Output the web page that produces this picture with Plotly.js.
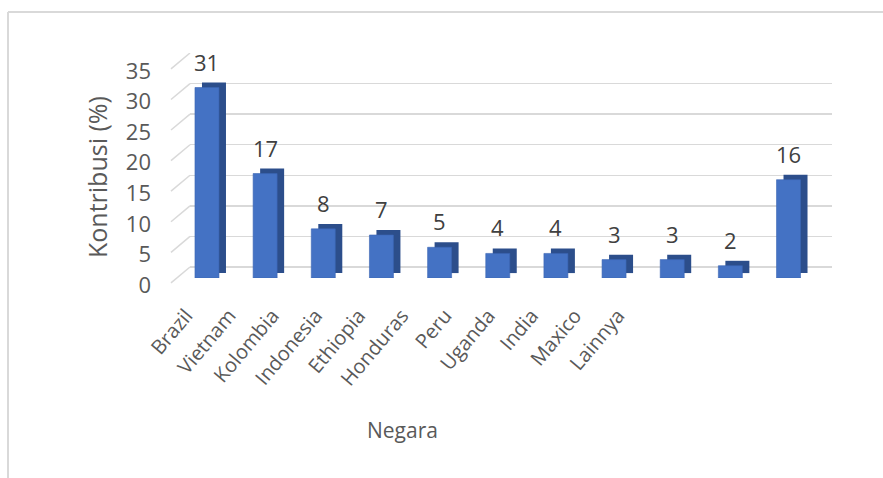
<!DOCTYPE html>
<html>
<head>
<meta charset="utf-8">
<script src="https://cdn.plot.ly/plotly-3.0.1.min.js"></script>
<style>html,body{margin:0;padding:0;background:#fff;}#chart{width:883px;height:478px;}</style>
</head>
<body>
<div id="chart"></div>
<script>
const categories = ['Brazil','Vietnam','Kolombia','Indonesia','Ethiopia','Honduras','Peru','Uganda','India','Maxico','Lainnya'];
const values = [31, 17, 8, 7, 5, 4, 4, 3, 3, 2, 16];
const yTicks = [0, 5, 10, 15, 20, 25, 30, 35];
const yTickLabels = ['0', '5', '10', '15', '20', '25', '30', '35'];
const xTitle = 'Negara';
const yTitle = 'Kontribusi (%)';

const W = 883, H = 478;
const fx = p => p / W;
const fy = p => 1 - p / H;

const FONT = '"Open Sans", Lato, sans-serif';
const GRID = '#d9d9d9';
const TXT = '#595959';

const traces = [
  { type: 'scatter', mode: 'markers', x: categories, y: values, xaxis: 'x', yaxis: 'y',
    marker: { opacity: 0 }, hoverinfo: 'skip', showlegend: false },
  { type: 'bar', x: categories, y: values, xaxis: 'x2', yaxis: 'y2',
    base: 0.8, offset: -0.086, width: 0.4127,
    marker: { color: '#2c4e8b' }, hoverinfo: 'skip', showlegend: false },
  { type: 'bar', x: categories, y: values, xaxis: 'x2', yaxis: 'y2',
    offset: -0.2063, width: 0.4127,
    marker: { color: '#4472C4', line: { color: '#3b65b3', width: 0.6 } },
    hoverinfo: 'skip', showlegend: false }
];

const shapes = yTicks.map(v => ({
  type: 'line', xref: 'paper', yref: 'y', x0: fx(171), y0: v - 2.6, x1: fx(190), y1: v,
  line: { color: GRID, width: 1.5 }, layer: 'below'
}));
shapes.push({ type: 'line', xref: 'paper', yref: 'paper', x0: fx(8), y0: 0, x1: fx(8), y1: fy(12), line: { color: GRID, width: 2 } });
shapes.push({ type: 'line', xref: 'paper', yref: 'paper', x0: fx(8), y0: fy(12), x1: 1, y1: fy(12), line: { color: GRID, width: 2 } });

const annotations = categories.map((c, i) => ({
  x: c, y: values[i], xref: 'x2', yref: 'y2', text: String(values[i]),
  showarrow: false, yshift: 26, font: { family: FONT, size: 22, color: '#404040' }
}));
annotations.push({
  xref: 'paper', yref: 'paper', x: fx(402), y: fy(430), text: xTitle, showarrow: false,
  xanchor: 'center', yanchor: 'middle', font: { family: FONT, size: 21, color: TXT }
});
annotations.push({
  xref: 'paper', yref: 'paper', x: fx(97), y: fy(177), text: yTitle, showarrow: false, textangle: -90,
  xanchor: 'center', yanchor: 'middle', font: { family: FONT, size: 25, color: TXT }
});

const layout = {
  width: W, height: H,
  margin: { l: 0, r: 0, t: 0, b: 0 },
  paper_bgcolor: '#ffffff', plot_bgcolor: 'rgba(0,0,0,0)',
  barmode: 'overlay', showlegend: false,
  font: { family: FONT, color: TXT },
  xaxis: {
    domain: [fx(190), fx(832)], type: 'category', range: [-0.14, 14.72],
    anchor: 'free', position: fy(299),
    showgrid: false, zeroline: false, showline: false, ticks: '',
    ticklabelshift: -10,
    tickangle: -50, tickfont: { family: FONT, size: 20, color: TXT }
  },
  yaxis: {
    domain: [fy(285.34), fy(53)], range: [-3, 35],
    anchor: 'free', position: fx(151),
    tickmode: 'array', tickvals: yTicks, ticktext: yTickLabels,
    showgrid: true, gridcolor: GRID, gridwidth: 1.5,
    zeroline: false, showline: false, ticks: '',
    ticklabelshift: 18,
    tickfont: { family: FONT, size: 22, color: TXT }
  },
  xaxis2: {
    domain: [fx(177.9), fx(817.6)], type: 'category', range: [-0.5, 10.5],
    anchor: 'y2', showticklabels: false, showgrid: false, zeroline: false, showline: false, ticks: ''
  },
  yaxis2: {
    domain: [fy(278), fy(278 - 35 * 6.145)], range: [0, 35],
    anchor: 'x2', visible: false
  },
  shapes: shapes,
  annotations: annotations
};

Plotly.newPlot('chart', traces, layout, { staticPlot: true, displayModeBar: false });
</script>
</body>
</html>
